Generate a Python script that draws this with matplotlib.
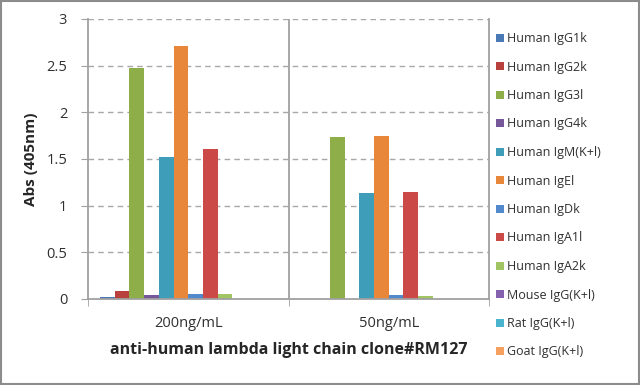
import matplotlib
matplotlib.use("Agg")
import matplotlib.pyplot as plt
import numpy as np
from matplotlib.patches import Rectangle

categories = ["200ng/mL", "50ng/mL"]
series = ["Human IgG1k", "Human IgG2k", "Human IgG3l", "Human IgG4k", "Human IgM(K+l)",
          "Human IgEl", "Human IgDk", "Human IgA1l", "Human IgA2k", "Mouse IgG(K+l)",
          "Rat IgG(K+l)", "Goat IgG(K+l)"]
values_200 = [0.02, 0.09, 2.48, 0.04, 1.52, 2.71, 0.05, 1.61, 0.05, 0.0, 0.0, 0.0]
values_50 = [0.0, 0.0, 1.74, 0.0, 1.14, 1.75, 0.04, 1.15, 0.03, 0.0, 0.0, 0.0]
colors = ["#4A7AB5", "#B8413E", "#8DAE48", "#76589A", "#3E9DB8", "#E8863A",
          "#5288CC", "#CB4A48", "#A0C562", "#8462AE", "#4AB3CE", "#F5A05E"]

plt.rcParams['font.family'] = ['Open Sans', 'DejaVu Sans']

fig = plt.figure(figsize=(6.4, 3.85), dpi=100)
ax = fig.add_axes([88/640, 1-299/385, (489-88)/640, (299-19)/385])

n = len(series)
w = 0.88 / n
x = np.arange(len(categories))
handles = []
for i in range(n):
    vals = [values_200[i], values_50[i]]
    b = ax.bar(x - 0.44 + w*(i+0.5), vals, width=w, color=colors[i], label=series[i])
    handles.append(b)

ax.set_xlim(-0.5, 1.5)
ax.set_ylim(0, 3)
ax.set_yticks([0, 0.5, 1, 1.5, 2, 2.5, 3])
ax.set_yticklabels(["0", "0.5", "1", "1.5", "2", "2.5", "3"])
ax.set_xticks(x)
ax.set_xticklabels(categories)
ax.set_xticks([-0.5, 0.5, 1.5], minor=True)
ax.tick_params(axis='x', which='major', length=0, pad=12, labelsize=10.5, labelcolor='#303030')
ax.tick_params(axis='x', which='minor', length=5, color='#A0A0A0', direction='out')
ax.tick_params(axis='y', length=5, color='#A0A0A0', direction='out', labelsize=10.5, labelcolor='#303030', pad=10)
for yv in [0.5, 1, 1.5, 2, 2.5, 3]:
    ax.axhline(yv, color='#A8A8A8', lw=1, ls=(0, (4, 3)), zorder=0)
ax.axvline(0.5, color='#A0A0A0', lw=1.3, zorder=0)
ax.spines['top'].set_visible(False)
for s in ['left', 'right', 'bottom']:
    ax.spines[s].set_color('#A0A0A0')
    ax.spines[s].set_linewidth(1.3)

ax.set_ylabel("Abs (405nm)", fontsize=11, fontweight='bold', color='#262626', labelpad=6)
ax.set_xlabel("anti-human lambda light chain clone#RM127", fontsize=11.5, fontweight='bold', color='#262626', labelpad=8)

leg = fig.legend(handles=handles, labels=series, loc='upper left', bbox_to_anchor=(491/640, 1-27/385),
                 frameon=False, fontsize=9, handlelength=0.6, handleheight=0.6, handletextpad=0.3,
                 labelspacing=1.24, borderaxespad=0)
for t in leg.get_texts():
    t.set_color('#303030')

fig.patches.append(Rectangle((0.002, 0.003), 0.996, 0.994, transform=fig.transFigure,
                             fill=False, edgecolor='#8C8C8C', lw=1.5))

fig.savefig("out.png", dpi=100)
